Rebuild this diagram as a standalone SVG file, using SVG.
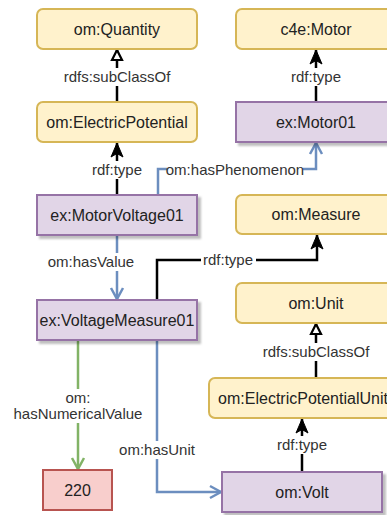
<svg xmlns="http://www.w3.org/2000/svg" width="387" height="515" viewBox="0 0 387 515">
<style>
  .y { fill:#fff2cc; stroke:#d6b656; stroke-width:2; }
  .p { fill:#e1d5e7; stroke:#9673a6; stroke-width:2; filter:url(#sh); }
  .r { fill:#f8cecc; stroke:#b85450; stroke-width:2; }
  .t { font-family:"Liberation Sans", Arial, sans-serif; font-size:16px; fill:#222; text-anchor:middle; }
  .l { font-family:"Liberation Sans", Arial, sans-serif; font-size:15px; fill:#333; text-anchor:middle; }
  .bg { fill:#ffffff; }
  .k { fill:none; stroke:#000; stroke-width:2.5; }
  .b { fill:none; stroke:#6c8ebf; stroke-width:2.5; }
  .g { fill:none; stroke:#82b366; stroke-width:2.5; }
</style>
<defs>
  <filter id="sh" x="-10%" y="-20%" width="130%" height="160%">
    <feDropShadow dx="3" dy="3" stdDeviation="1.2" flood-color="#000" flood-opacity="0.25"/>
  </filter>
  <marker id="classic" markerUnits="userSpaceOnUse" markerWidth="16" markerHeight="16" viewBox="0 0 16 16" refX="15" refY="8" orient="auto">
    <path d="M1,2 L15,8 L1,14 L4.5,8 z" fill="#000" stroke="#000" stroke-width="1"/>
  </marker>
  <marker id="block" markerUnits="userSpaceOnUse" markerWidth="14" markerHeight="14" viewBox="0 0 14 14" refX="12" refY="7" orient="auto">
    <path d="M2,2 L12,7 L2,12 z" fill="#fff" stroke="#000" stroke-width="2.2"/>
  </marker>
  <marker id="openb" markerUnits="userSpaceOnUse" markerWidth="16" markerHeight="16" viewBox="0 0 16 16" refX="14" refY="8" orient="auto">
    <path d="M3,2 L14,8 L3,14" fill="none" stroke="#6c8ebf" stroke-width="2.5"/>
  </marker>
  <marker id="openg" markerUnits="userSpaceOnUse" markerWidth="16" markerHeight="16" viewBox="0 0 16 16" refX="14" refY="8" orient="auto">
    <path d="M3,2 L14,8 L3,14" fill="none" stroke="#82b366" stroke-width="2.5"/>
  </marker>
</defs>

<g id="connectors">
  <path class="k" d="M117,102 L117,50" marker-end="url(#block)"/>
  <path class="k" d="M117,195 L117,143" marker-end="url(#classic)"/>
  <path class="k" d="M316,102 L316,50" marker-end="url(#classic)"/>
  <path class="b" d="M158,195 L158,169 L316,169 L316,143" marker-end="url(#openb)"/>
  <path class="b" d="M117,235 L117,299" marker-end="url(#openb)"/>
  <path class="k" d="M157,300 L157,260 L317,260 L317,235" marker-end="url(#classic)"/>
  <path class="g" d="M78,340 L78,469" marker-end="url(#openg)"/>
  <path class="b" d="M157,340 L157,492 L221,492" marker-end="url(#openb)"/>
  <path class="k" d="M316,378 L316,324" marker-end="url(#block)"/>
  <path class="k" d="M302,472 L302,419" marker-end="url(#classic)"/>

  <rect class="bg" x="61" y="68" width="112" height="18"/>
  <text class="l" x="117" y="82">rdfs:subClassOf</text>
  <rect class="bg" x="89" y="161" width="56" height="18"/>
  <text class="l" x="117" y="175">rdf:type</text>
  <rect class="bg" x="288" y="68" width="56" height="18"/>
  <text class="l" x="316" y="82">rdf:type</text>
  <rect class="bg" x="167" y="161" width="136" height="18"/>
  <text class="l" x="235" y="175">om:hasPhenomenon</text>
  <rect class="bg" x="49" y="253" width="85" height="18"/>
  <text class="l" x="91" y="267">om:hasValue</text>
  <rect class="bg" x="201" y="251" width="55" height="18"/>
  <text class="l" x="228" y="265">rdf:type</text>
  <rect class="bg" x="14" y="389" width="128" height="34"/>
  <text class="l" x="78" y="403">om:</text>
  <text class="l" x="78" y="419">hasNumericalValue</text>
  <rect class="bg" x="118" y="441" width="78" height="18"/>
  <text class="l" x="157" y="455">om:hasUnit</text>
  <rect class="bg" x="260" y="343" width="112" height="18"/>
  <text class="l" x="316" y="357">rdfs:subClassOf</text>
  <rect class="bg" x="274" y="436" width="56" height="18"/>
  <text class="l" x="302" y="450">rdf:type</text>
</g>

<g id="om-quantity"><rect class="y" x="37" y="9" width="160" height="40" rx="6"/><text class="t" x="117" y="35">om:Quantity</text></g>
<g id="om-electricpotential"><rect class="y" x="37" y="102" width="160" height="40" rx="6"/><text class="t" x="117" y="128">om:ElectricPotential</text></g>
<g id="ex-motorvoltage01"><rect class="p" x="37" y="195" width="160" height="40"/><text class="t" x="117" y="221">ex:MotorVoltage01</text></g>
<g id="c4e-motor"><rect class="y" x="236" y="9" width="160" height="40" rx="6"/><text class="t" x="316" y="35">c4e:Motor</text></g>
<g id="ex-motor01"><rect class="p" x="236" y="102" width="160" height="40"/><text class="t" x="316" y="128">ex:Motor01</text></g>
<g id="om-measure"><rect class="y" x="236" y="195" width="160" height="39" rx="6"/><text class="t" x="316" y="220">om:Measure</text></g>
<g id="ex-voltagemeasure01"><rect class="p" x="37" y="300" width="160" height="40"/><text class="t" x="117" y="326">ex:VoltageMeasure01</text></g>
<g id="om-unit"><rect class="y" x="236" y="283" width="160" height="40" rx="6"/><text class="t" x="316" y="309">om:Unit</text></g>
<g id="om-electricpotentialunit"><rect class="y" x="209" y="378" width="188" height="40" rx="6"/><text class="t" x="303" y="404">om:ElectricPotentialUnit</text></g>
<g id="n220"><rect class="r" x="43" y="470" width="69" height="40"/><text class="t" x="77.5" y="496">220</text></g>
<g id="om-volt"><rect class="p" x="222" y="472" width="160" height="40"/><text class="t" x="302" y="498">om:Volt</text></g>
</svg>
